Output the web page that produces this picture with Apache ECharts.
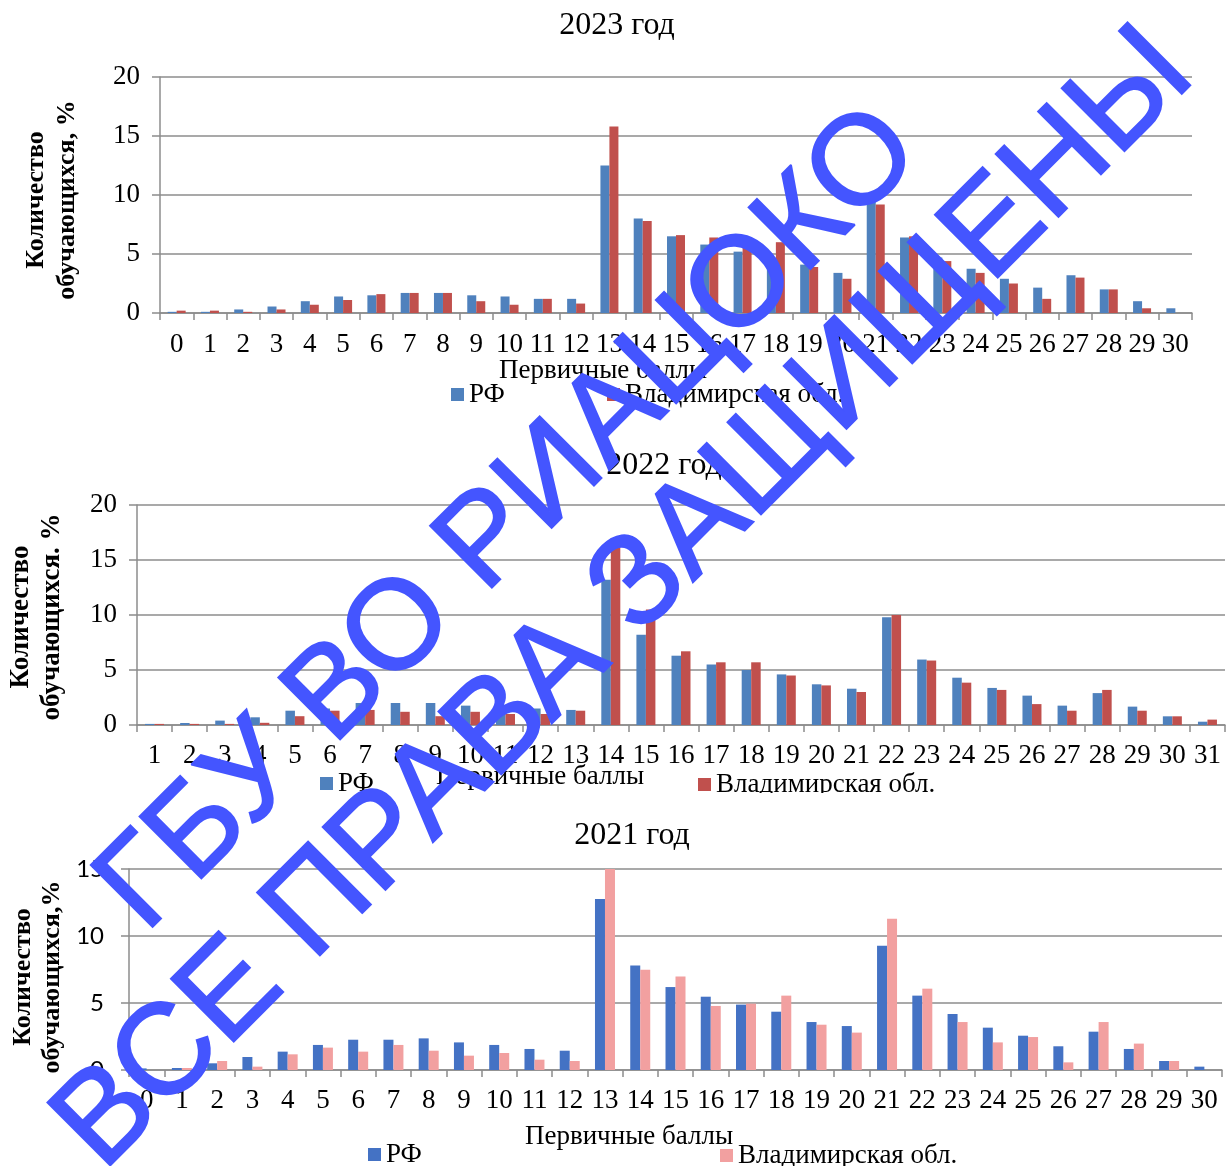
<!DOCTYPE html>
<html><head><meta charset="utf-8">
<script src="https://cdn.jsdelivr.net/npm/echarts@6/dist/echarts.min.js"></script>
<style>html,body{margin:0;padding:0;background:#fff}#c{width:1227px;height:1166px}</style>
</head><body><div id="c"></div>
<script>
// ---- data ----
const scores2023 = ['0','1','2','3','4','5','6','7','8','9','10','11','12','13','14','15','16','17','18','19','20','21','22','23','24','25','26','27','28','29','30'];
const rf2023   = [0.1,0.1,0.3,0.55,1.0,1.4,1.5,1.7,1.7,1.5,1.4,1.2,1.2,12.5,8.0,6.5,5.8,5.2,4.7,4.1,3.4,9.5,6.4,4.7,3.75,2.9,2.15,3.2,2.0,1.0,0.4];
const vlad2023 = [0.2,0.2,0.1,0.3,0.7,1.1,1.6,1.7,1.7,1.0,0.7,1.2,0.8,15.8,7.8,6.6,6.4,6.4,6.0,3.9,2.9,9.2,6.5,4.4,3.4,2.5,1.2,3.0,2.0,0.4,0];

const scores2022 = ['1','2','3','4','5','6','7','8','9','10','11','12','13','14','15','16','17','18','19','20','21','22','23','24','25','26','27','28','29','30','31'];
const rf2022   = [0.1,0.18,0.4,0.7,1.3,1.5,2.0,2.0,2.0,1.76,1.6,1.5,1.37,13.2,8.2,6.3,5.5,5.0,4.6,3.7,3.3,9.8,5.95,4.3,3.37,2.67,1.76,2.9,1.67,0.79,0.3];
const vlad2022 = [0.1,0.1,0.1,0.2,0.8,1.3,1.37,1.2,0.8,1.2,1.0,1.0,1.3,17.0,10.5,6.7,5.7,5.7,4.5,3.6,3.0,10.0,5.86,3.85,3.19,1.9,1.3,3.19,1.3,0.79,0.49];

const scores2021 = ['0','1','2','3','4','5','6','7','8','9','10','11','12','13','14','15','16','17','18','19','20','21','22','23','24','25','26','27','28','29','30'];
const rf2021   = [0.12,0.15,0.5,0.97,1.37,1.87,2.26,2.26,2.36,2.06,1.87,1.57,1.44,12.76,7.79,6.19,5.47,4.88,4.35,3.58,3.28,9.28,5.55,4.18,3.16,2.56,1.77,2.86,1.57,0.67,0.25];
const vlad2021 = [0,0.15,0.67,0.25,1.17,1.67,1.37,1.87,1.44,1.07,1.27,0.77,0.67,15.0,7.49,6.97,4.78,4.95,5.55,3.38,2.79,11.29,6.07,3.58,2.06,2.46,0.57,3.58,1.97,0.67,0];

const titles = ['2023 год','2022 год','2021 год'];
const yTitles = ['Количество\nобучающихся, %','Количество\nобучающихся. %','Количество\nобучающихся,%'];
const xTitle = 'Первичные баллы';
const nameRF = 'РФ', nameVlad = 'Владимирская обл.';
const watermark1 = 'ГБУ ВО РИАЦОКО';
const watermark2 = 'ВСЕ ПРАВА ЗАЩИЩЕНЫ';

// ---- styling ----
const SERIF = '"Liberation Serif","Times New Roman",serif';
const SANS = 'Lato,"Liberation Sans",sans-serif';
const WM_FONT = '"Liberation Sans",Arial,sans-serif';
const GRID_C = '#8c8c8c';
const colRF1 = '#4F81BD', colVl1 = '#C0504D';
const colRF3 = '#4472C4', colVl3 = '#F2A0A0';
const WM_C = '#4455ff';

const grids = [
  {left:160, top:77, width:1032, height:236},
  {left:137, top:505, width:1088, height:220},
  {left:129, top:869, width:1093, height:201}
];

function xAxis(i, data, margin){
  return {type:'category', gridIndex:i, data:data,
    axisLine:{lineStyle:{color:GRID_C,width:1.5}},
    axisTick:{show:true,length:7,lineStyle:{color:GRID_C,width:1.5}},
    axisLabel:{color:'#000',fontFamily:SERIF,fontSize:27,margin:margin,interval:0,hideOverlap:false}};
}
function yAxis(i, max, font, size, margin){
  return {type:'value', gridIndex:i, min:0, max:max, interval:5,
    axisLine:{show:true,lineStyle:{color:GRID_C,width:1.5}},
    axisTick:{show:true,length:8,lineStyle:{color:GRID_C,width:1.5}},
    splitLine:{lineStyle:{color:GRID_C,width:1.5}},
    axisLabel:{color:'#000',fontFamily:font,fontSize:size,margin:margin}};
}
function bar(name, i, data, color, bw){
  return {type:'bar', name:name, xAxisIndex:i, yAxisIndex:i, data:data,
    barWidth:bw, barGap:'0%', itemStyle:{color:color}, animation:false};
}
function legend(name, left, top, color){
  return {data:[{name:name, itemStyle:{color:color}}], left:left, top:top, padding:0,
    itemWidth:13, itemHeight:13, icon:'rect',
    textStyle:{fontFamily:SERIF,fontSize:27,color:'#000'}, selectedMode:false};
}
function txt(text, x, y, size, opts){
  opts = opts || {};
  const st = {text:text, fill:opts.fill||'#000', fontFamily:opts.family||SERIF, fontSize:size,
      fontWeight:opts.weight||'normal', align:'center', verticalAlign:'middle', lineHeight:opts.lh||size};
  if (opts.stroke) { st.stroke = opts.stroke; st.lineWidth = opts.lw || 1; }
  return {type:'text', x:x, y:y, rotation:opts.rot||0, z:opts.z||10, style:st};
}

const chart = echarts.init(document.getElementById('c'), null, {renderer:'canvas'});
chart.setOption({
  animation:false,
  grid: grids,
  xAxis:[xAxis(0,scores2023,18), xAxis(1,scores2022,17), xAxis(2,scores2021,17)],
  yAxis:[yAxis(0,20,SERIF,27,20), yAxis(1,20,SERIF,27,20), yAxis(2,15,SANS,24,25)],
  series:[
    bar(nameRF,0,rf2023,colRF1,9), bar(nameVlad,0,vlad2023,colVl1,9),
    bar(nameRF,1,rf2022,colRF1,9.5), bar(nameVlad,1,vlad2022,colVl1,9.5),
    bar(nameRF,2,rf2021,colRF3,10), bar(nameVlad,2,vlad2021,colVl3,10)
  ],
  legend:[
    legend(nameRF,451,381,colRF1), legend(nameVlad,607,381,colVl1),
    legend(nameRF,320,770,colRF1), legend(nameVlad,698,771,colVl1),
    legend(nameRF,368,1141,colRF3), legend(nameVlad,720,1142,colVl3)
  ],
  graphic:[
    {type:'rect', shape:{x:0,y:793,width:1227,height:22}, style:{fill:'#fff'}, z:50},
    txt(titles[0],617,26,32), txt(titles[1],664,466,32), txt(titles[2],632,836,32),
    txt(xTitle,603,371,27), txt(xTitle,540,777,27), txt(xTitle,629,1137,27),
    txt(yTitles[0],52,200,26,{rot:Math.PI/2,weight:'bold',lh:31}),
    txt(yTitles[1],37,617,27,{rot:Math.PI/2,weight:'bold',lh:31}),
    txt(yTitles[2],38,977,26,{rot:Math.PI/2,weight:'bold',lh:29}),
    txt(watermark1,510,520,127,{rot:Math.PI/4,family:WM_FONT,fill:WM_C,stroke:WM_C,lw:2,z:100}),
    txt(watermark2,625,600,129,{rot:Math.PI/4,family:WM_FONT,fill:WM_C,stroke:WM_C,lw:2,z:100})
  ]
});
</script></body></html>
